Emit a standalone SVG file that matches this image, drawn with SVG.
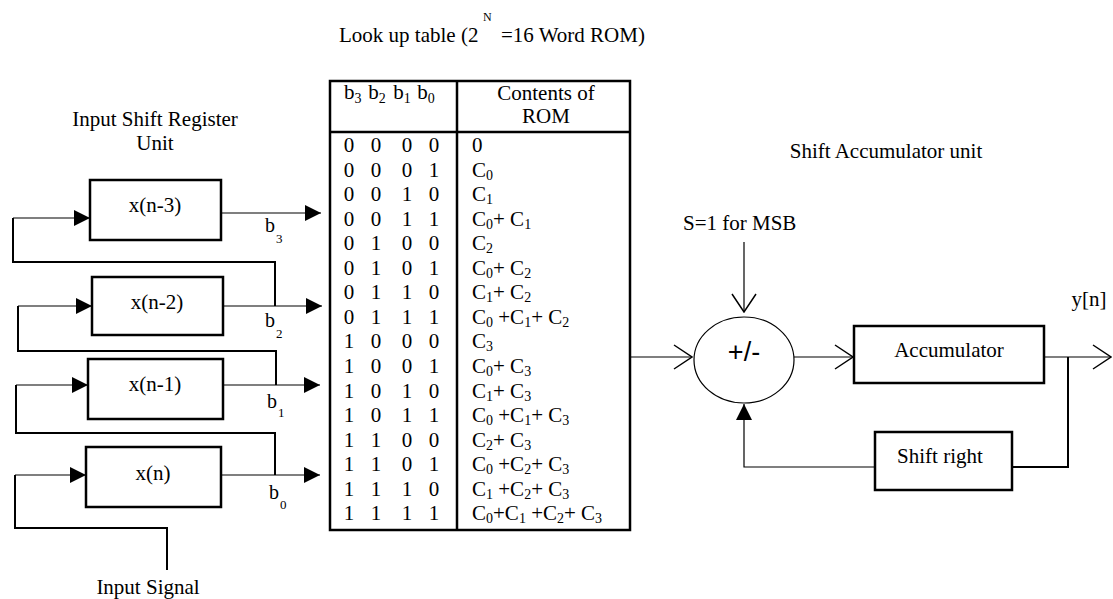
<svg xmlns="http://www.w3.org/2000/svg" width="1113" height="599" viewBox="0 0 1113 599">
  <style>
    text { font-family: "Liberation Serif", "Times New Roman", serif; fill: #000; }
    .t21 { font-size: 21px; }
    .t20 { font-size: 20px; }
    .sub { font-size: 14px; }
    .lsub { font-size: 13px; }
    .mid { text-anchor: middle; }
    .box { fill: #fff; stroke: #000; stroke-width: 2.5; }
    .thin { fill: none; stroke: #000; stroke-width: 1.2; }
    .thick { fill: none; stroke: #000; stroke-width: 2; }
    .grid { fill: none; stroke: #000; stroke-width: 2.5; }
  </style>
  <defs>
    <marker id="solid" viewBox="0 0 16 16" refX="16" refY="8" markerWidth="16" markerHeight="16" markerUnits="userSpaceOnUse" orient="auto">
      <path d="M0,0 L16,8 L0,16 Z" fill="#000"/>
    </marker>
    <marker id="open" viewBox="0 0 20 26" refX="19" refY="13" markerWidth="20" markerHeight="26" markerUnits="userSpaceOnUse" orient="auto">
      <path d="M1,1 L19,13 L1,25" fill="none" stroke="#000" stroke-width="1.5"/>
    </marker>
  </defs>
  <rect width="1113" height="599" fill="#fff"/>

  <!-- Captions -->
  <g id="captions">
    <text class="t21" x="339" y="42">Look up table (2</text>
    <text x="483" y="21" font-size="12">N</text>
    <text class="t21" x="501" y="42">=16 Word ROM)</text>
    <text class="t21 mid" x="155" y="126">Input Shift Register</text>
    <text class="t21 mid" x="155" y="150">Unit</text>
    <text class="t21 mid" x="886" y="158">Shift Accumulator unit</text>
    <text class="t21" x="683" y="230">S=1 for MSB</text>
    <text class="t21 mid" x="1089" y="306">y[n]</text>
    <text class="t21 mid" x="148" y="594">Input Signal</text>
  </g>

  <!-- Connectors -->
  <g id="connectors">
    <!-- register feedback chain -->
    <path class="thick" d="M275,306 V262 H13 V218"/>
    <path class="thin" d="M13,218 H90" marker-end="url(#solid)"/>
    <path class="thick" d="M276,385 V351 H18 V306"/>
    <path class="thin" d="M18,306 H92" marker-end="url(#solid)"/>
    <path class="thick" d="M275,475 V433 H16 V385"/>
    <path class="thin" d="M16,385 H88" marker-end="url(#solid)"/>
    <path class="thick" d="M167,570 V528 H15 V475"/>
    <path class="thin" d="M15,475 H86" marker-end="url(#solid)"/>
    <!-- bit lines into ROM -->
    <path class="thin" d="M221,213 H321" marker-end="url(#solid)"/>
    <path class="thin" d="M223,306 H322" marker-end="url(#solid)"/>
    <path class="thin" d="M223,385 H320" marker-end="url(#solid)"/>
    <path class="thin" d="M221,475 H320" marker-end="url(#solid)"/>
    <!-- accumulator path -->
    <path class="thin" d="M744,242 V312" marker-end="url(#open)"/>
    <path class="thin" d="M630,357 H692" marker-end="url(#open)"/>
    <path class="thin" d="M794,357 H853" marker-end="url(#open)"/>
    <path class="thin" d="M1044,357 H1111" marker-end="url(#open)"/>
    <path class="thick" d="M1068,357 V467 H1012"/>
    <path class="thin" d="M875,467 H744 V404" marker-end="url(#solid)"/>
  </g>

  <!-- Bit labels -->
  <g id="bit-labels">
    <text class="t20" x="265" y="232">b<tspan class="lsub" dx="1" dy="11">3</tspan></text>
    <text class="t20" x="265" y="327">b<tspan class="lsub" dx="1" dy="11">2</tspan></text>
    <text class="t20" x="267" y="408">b<tspan class="lsub" dx="1" dy="9">1</tspan></text>
    <text class="t20" x="269" y="499">b<tspan class="lsub" dx="1" dy="10">0</tspan></text>
  </g>

  <!-- Shift register cells -->
  <g id="reg-n3">
    <rect class="box" x="90" y="180" width="131" height="60"/>
    <text class="t21 mid" x="155" y="212">x(n-3)</text>
  </g>
  <g id="reg-n2">
    <rect class="box" x="92" y="277" width="131" height="58"/>
    <text class="t21 mid" x="157" y="309">x(n-2)</text>
  </g>
  <g id="reg-n1">
    <rect class="box" x="88" y="359" width="135" height="60"/>
    <text class="t21 mid" x="155" y="391">x(n-1)</text>
  </g>
  <g id="reg-n0">
    <rect class="box" x="86" y="447" width="135" height="60"/>
    <text class="t21 mid" x="153" y="480">x(n)</text>
  </g>

  <!-- ROM look-up table -->
  <g id="rom">
    <rect class="grid" x="330" y="81" width="300" height="449" fill="#fff"/>
    <line class="grid" x1="457" y1="81" x2="457" y2="530"/>
    <line class="grid" x1="330" y1="132" x2="630" y2="132"/>
    <text class="t21" y="99"><tspan x="344">b</tspan><tspan class="sub" dy="4">3</tspan><tspan x="363" dy="-4"> b</tspan><tspan class="sub" dy="4">2</tspan><tspan x="388" dy="-4"> b</tspan><tspan class="sub" dy="4">1</tspan><tspan x="412" dy="-4"> b</tspan><tspan class="sub" dy="4">0</tspan></text>
    <text class="t21 mid" x="546" y="100">Contents of</text>
    <text class="t21 mid" x="546" y="123">ROM</text>

    <g class="t21 mid">
      <text x="349 362 376 391 407 420 434" y="152">0 0 0 0</text>
      <text x="349 362 376 391 407 420 434" y="176.5">0 0 0 1</text>
      <text x="349 362 376 391 407 420 434" y="201">0 0 1 0</text>
      <text x="349 362 376 391 407 420 434" y="225.5">0 0 1 1</text>
      <text x="349 362 376 391 407 420 434" y="250">0 1 0 0</text>
      <text x="349 362 376 391 407 420 434" y="274.5">0 1 0 1</text>
      <text x="349 362 376 391 407 420 434" y="299">0 1 1 0</text>
      <text x="349 362 376 391 407 420 434" y="323.5">0 1 1 1</text>
      <text x="349 362 376 391 407 420 434" y="348">1 0 0 0</text>
      <text x="349 362 376 391 407 420 434" y="373">1 0 0 1</text>
      <text x="349 362 376 391 407 420 434" y="397.5">1 0 1 0</text>
      <text x="349 362 376 391 407 420 434" y="422">1 0 1 1</text>
      <text x="349 362 376 391 407 420 434" y="446.5">1 1 0 0</text>
      <text x="349 362 376 391 407 420 434" y="471">1 1 0 1</text>
      <text x="349 362 376 391 407 420 434" y="495.5">1 1 1 0</text>
      <text x="349 362 376 391 407 420 434" y="520">1 1 1 1</text>
    </g>

    <g class="t21">
      <text x="472" y="152">0</text>
      <text x="472" y="176.5">C<tspan class="sub" dy="3">0</tspan></text>
      <text x="472" y="201">C<tspan class="sub" dy="3">1</tspan></text>
      <text x="472" y="225.5">C<tspan class="sub" dy="3">0</tspan><tspan dy="-3">+ C</tspan><tspan class="sub" dy="3">1</tspan></text>
      <text x="472" y="250">C<tspan class="sub" dy="3">2</tspan></text>
      <text x="472" y="274.5">C<tspan class="sub" dy="3">0</tspan><tspan dy="-3">+ C</tspan><tspan class="sub" dy="3">2</tspan></text>
      <text x="472" y="299">C<tspan class="sub" dy="3">1</tspan><tspan dy="-3">+ C</tspan><tspan class="sub" dy="3">2</tspan></text>
      <text x="472" y="323.5">C<tspan class="sub" dy="3">0</tspan><tspan dy="-3"> +C</tspan><tspan class="sub" dy="3">1</tspan><tspan dy="-3">+ C</tspan><tspan class="sub" dy="3">2</tspan></text>
      <text x="472" y="348">C<tspan class="sub" dy="3">3</tspan></text>
      <text x="472" y="373">C<tspan class="sub" dy="3">0</tspan><tspan dy="-3">+ C</tspan><tspan class="sub" dy="3">3</tspan></text>
      <text x="472" y="397.5">C<tspan class="sub" dy="3">1</tspan><tspan dy="-3">+ C</tspan><tspan class="sub" dy="3">3</tspan></text>
      <text x="472" y="422">C<tspan class="sub" dy="3">0</tspan><tspan dy="-3"> +C</tspan><tspan class="sub" dy="3">1</tspan><tspan dy="-3">+ C</tspan><tspan class="sub" dy="3">3</tspan></text>
      <text x="472" y="446.5">C<tspan class="sub" dy="3">2</tspan><tspan dy="-3">+ C</tspan><tspan class="sub" dy="3">3</tspan></text>
      <text x="472" y="471">C<tspan class="sub" dy="3">0</tspan><tspan dy="-3"> +C</tspan><tspan class="sub" dy="3">2</tspan><tspan dy="-3">+ C</tspan><tspan class="sub" dy="3">3</tspan></text>
      <text x="472" y="495.5">C<tspan class="sub" dy="3">1</tspan><tspan dy="-3"> +C</tspan><tspan class="sub" dy="3">2</tspan><tspan dy="-3">+ C</tspan><tspan class="sub" dy="3">3</tspan></text>
      <text x="472" y="520">C<tspan class="sub" dy="3">0</tspan><tspan dy="-3">+C</tspan><tspan class="sub" dy="3">1</tspan><tspan dy="-3"> +C</tspan><tspan class="sub" dy="3">2</tspan><tspan dy="-3">+ C</tspan><tspan class="sub" dy="3">3</tspan></text>
    </g>
  </g>

  <!-- Adder / subtractor -->
  <g id="adder">
    <ellipse cx="744" cy="360" rx="50" ry="43" fill="#fff" stroke="#000" stroke-width="1.2"/>
    <text x="744" y="361" class="mid" font-size="27" style="font-family: 'Liberation Sans', Arial, sans-serif;">+/-</text>
  </g>

  <!-- Accumulator -->
  <g id="accumulator">
    <rect class="box" x="854" y="326" width="190" height="57"/>
    <text class="t21 mid" x="949" y="357">Accumulator</text>
  </g>

  <!-- Shift right -->
  <g id="shift-right">
    <rect class="box" x="875" y="432" width="137" height="58"/>
    <text class="t21 mid" x="940" y="463">Shift right</text>
  </g>
</svg>
